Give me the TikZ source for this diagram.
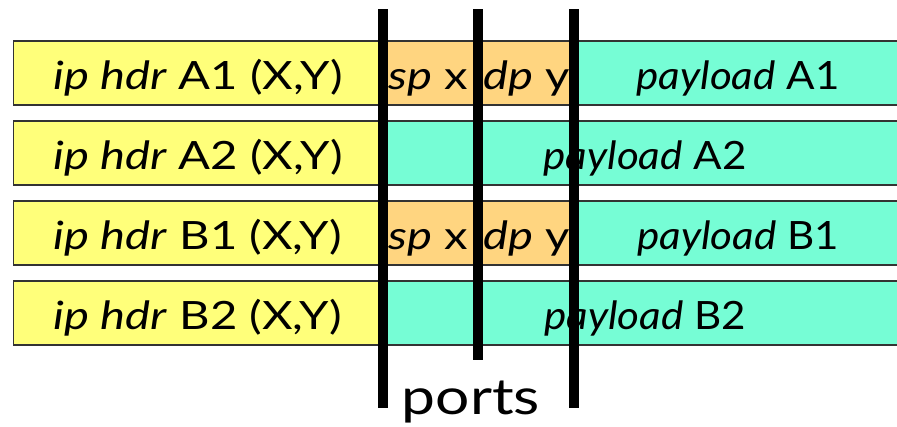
\documentclass[tikz,border=0pt]{standalone}
\usepackage{fontspec}
\setmainfont{Lato}[FakeStretch=1.21]
\newfontfamily\payfont{Lato}[FakeStretch=1.08]
\definecolor{hdryellow}{RGB}{255,255,122}
\definecolor{portorange}{RGB}{255,213,128}
\definecolor{paycyan}{RGB}{118,253,213}
\tikzset{
  seg/.style={draw=black!80, line width=1.2pt},
  rowtext/.style={anchor=base, inner sep=0pt, font=\fontsize{39}{42}\selectfont},
  paytext/.style={anchor=base, inner sep=0pt, font=\payfont\fontsize{39}{42}\selectfont},
  bigtext/.style={anchor=base, inner sep=0pt, font=\fontsize{50}{54}\selectfont},
  bar/.style={fill=black, draw=none}
}
\begin{document}
\begin{tikzpicture}[x=1pt,y=-1pt]
\useasboundingbox (0,0) rectangle (897,427);
\begin{scope}
\clip (0,0) rectangle (897,427);
% row 1
\path[seg, fill=hdryellow] (13.5,41) rectangle (383,105);
\path[seg, fill=portorange] (383,41) rectangle (574,105);
\path[seg, fill=paycyan] (574,41) rectangle (910,105);
% row 2
\path[seg, fill=hdryellow] (13.5,121) rectangle (383,185);
\path[seg, fill=paycyan] (383,121) rectangle (910,185);
% row 3
\path[seg, fill=hdryellow] (13.5,201) rectangle (383,265);
\path[seg, fill=portorange] (383,201) rectangle (574,265);
\path[seg, fill=paycyan] (574,201) rectangle (910,265);
% row 4
\path[seg, fill=hdryellow] (13.5,281) rectangle (383,345);
\path[seg, fill=paycyan] (383,281) rectangle (910,345);
\end{scope}
% texts
\node[rowtext] (h1) at (198,90) {\textit{ip hdr} A1 (X,Y)};
\node[rowtext] (s1) at (428,90) {\textit{sp} x};
\node[rowtext] (d1) at (527,90) {\textit{dp} y};
\node[paytext] (p1) at (738,90) {\textit{payload} A1};
\node[rowtext] (h2) at (198,170) {\textit{ip hdr} A2 (X,Y)};
\node[paytext] (p2) at (645,170) {\textit{payload} A2};
\node[rowtext] (h3) at (198,250) {\textit{ip hdr} B1 (X,Y)};
\node[rowtext] (s3) at (428,250) {\textit{sp} x};
\node[rowtext] (d3) at (527,250) {\textit{dp} y};
\node[paytext] (p3) at (738,250) {\textit{payload} B1};
\node[rowtext] (h4) at (198,330) {\textit{ip hdr} B2 (X,Y)};
\node[paytext] (p4) at (645,330) {\textit{payload} B2};
% bars
\path[bar] (377.5,9.3) rectangle (387.5,408.3);
\path[bar] (473,9.3) rectangle (483,360);
\path[bar] (569.2,9.3) rectangle (579.2,408.3);
\node[bigtext] (ports) at (471,414) {ports};
\end{tikzpicture}
\end{document}
